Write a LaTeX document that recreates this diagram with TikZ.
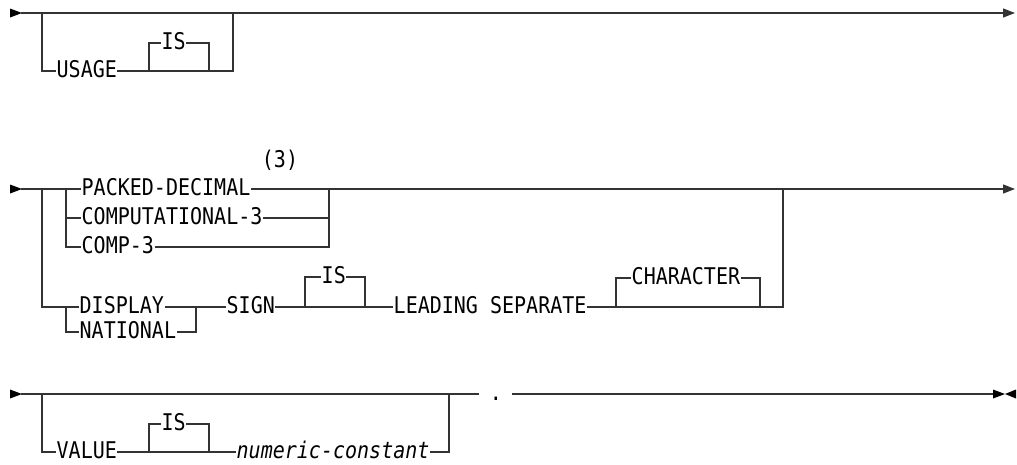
\documentclass[tikz,border=0pt]{standalone}
\usepackage{fontspec}
\newfontfamily\rrfont{DejaVu Sans Mono}[FakeStretch=0.87]
\usetikzlibrary{arrows.meta}
\definecolor{rrline}{HTML}{333333}
\tikzset{
  kw/.style={inner xsep=1pt, inner ysep=0pt, text height=16pt, text depth=3.4pt, font=\rrfont\fontsize{23pt}{26pt}\selectfont, anchor=west},
  rail/.style={draw=rrline, line width=1.3pt, line cap=rect},
  endarrow/.style={-{Triangle[length=12pt,width=9pt]}},
  tipfill/.style={fill=black, draw=none}
}
\begin{document}
\begin{tikzpicture}[x=1pt,y=-1pt]
\useasboundingbox (0,0) rectangle (1017,464);

% ---------------- Row 1 ----------------
\coordinate (s1) at (22,13);
\coordinate (e1) at (1015,13);
\coordinate (b1) at (42,13);
\coordinate (i1a) at (149,71);
\coordinate (i1b) at (209,71);
\coordinate (r1b) at (233,71);
\coordinate (r1) at (233,13);
\fill[tipfill] (10,8.5) -- (s1) -- (10,17.5) -- cycle;
\node[kw] (usage) at (55.5,71) {USAGE};
\node[kw] (is1) at (160.5,43) {IS};
\draw[rail, endarrow] (s1) -- (e1);
\draw[rail] (b1) |- (usage.west);
\draw[rail] (usage.east) -- (i1a) -- (i1b) -- (r1b) -- (r1);
\draw[rail] (i1a) |- (is1.west);
\draw[rail] (is1.east) -| (i1b);

% ---------------- Row 2 ----------------
\coordinate (s2) at (22,189);
\coordinate (e2) at (1015,189);
\coordinate (b2) at (42,189);
\coordinate (c2) at (66,189);
\coordinate (r2) at (329,189);
\coordinate (d2) at (66,307);
\coordinate (dr2) at (196,307);
\coordinate (i2a) at (305,307);
\coordinate (i2b) at (365,307);
\coordinate (ch2a) at (616,307);
\coordinate (ch2b) at (760,307);
\coordinate (o2b) at (783,307);
\coordinate (o2) at (783,189);
\fill[tipfill] (10,184.5) -- (s2) -- (10,193.5) -- cycle;
\node[kw] (packed) at (80.5,189) {PACKED-DECIMAL};
\node[kw] (comput) at (80.5,218) {COMPUTATIONAL-3};
\node[kw] (comp3) at (80.5,247) {COMP-3};
\node[kw, anchor=center] (note3) at (280,161) {(3)};
\node[kw] (display) at (78.5,307) {DISPLAY};
\node[kw] (national) at (78.5,332) {NATIONAL};
\node[kw] (sign) at (225.5,307) {SIGN};
\node[kw] (is2) at (320.5,277) {IS};
\node[kw] (leading) at (392.5,307) {LEADING SEPARATE};
\node[kw] (character) at (630.5,278) {CHARACTER};
\draw[rail] (s2) -- (packed.west);
\draw[rail, endarrow] (packed.east) -- (e2);
\draw[rail] (c2) |- (comput.west);
\draw[rail] (c2) |- (comp3.west);
\draw[rail] (comput.east) -- (comput.east -| r2);
\draw[rail] (comp3.east) -| (r2);
\draw[rail] (b2) |- (display.west);
\draw[rail] (display.east) -- (dr2) -- (sign.west);
\draw[rail] (d2) |- (national.west);
\draw[rail] (national.east) -| (dr2);
\draw[rail] (sign.east) -- (leading.west);
\draw[rail] (i2a) |- (is2.west);
\draw[rail] (is2.east) -| (i2b);
\draw[rail] (leading.east) -- (o2b) -- (o2);
\draw[rail] (ch2a) |- (character.west);
\draw[rail] (character.east) -| (ch2b);

% ---------------- Row 3 ----------------
\coordinate (s3) at (22,394);
\coordinate (m3) at (478,394);
\coordinate (b3) at (42,394);
\coordinate (i3a) at (149,452);
\coordinate (i3b) at (209,452);
\coordinate (r3) at (449,394);
\coordinate (f3) at (513,394);
\coordinate (f3b) at (537,394);
\coordinate (e3) at (993,394);
\coordinate (k3) at (1005,394);
\fill[tipfill] (10,389.5) -- (s3) -- (10,398.5) -- cycle;
\node[kw] (value) at (55.5,452) {VALUE};
\node[kw] (is3) at (160.5,424) {IS};
\node[kw] (numconst) at (235.5,452) {\itshape numeric-constant};
\node[kw, anchor=center] (period) at (496,394) {.};
\draw[rail] (s3) -- (m3);
\draw[rail] (b3) |- (value.west);
\draw[rail] (value.east) -- (numconst.west);
\draw[rail] (i3a) |- (is3.west);
\draw[rail] (is3.east) -| (i3b);
\draw[rail] (numconst.east) -| (r3);
\draw[rail] (f3) -- (e3);
\draw[rail, line width=2pt, line cap=butt] (f3) -- (f3b);
\fill[tipfill] (993,389.5) -- (k3) -- (993,398.5) -- cycle;
\fill[tipfill] (1016,389.5) -- (k3) -- (1016,398.5) -- cycle;
\end{tikzpicture}
\end{document}
